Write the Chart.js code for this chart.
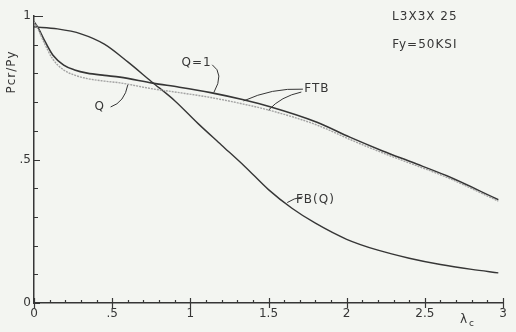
<!DOCTYPE html>
<html>
<head>
<meta charset="utf-8">
<script src="https://cdn.jsdelivr.net/npm/chart.js@4"></script>
<style>
  html, body { margin: 0; padding: 0; background: #f3f5f1; }
  #wrap { width: 516px; height: 332px; }
</style>
</head>
<body>
<div id="wrap"><canvas id="bucklingChart"></canvas></div>
<script>
// slenderness values and P/Py curves
const lamQ = [0, 0.03, 0.06, 0.12, 0.19, 0.26, 0.34, 0.45, 0.55, 0.76, 0.93, 1.13, 1.34, 1.51, 1.81, 2.02, 2.23, 2.42, 2.64, 2.97];
const q1Vals = [0.98, 0.955, 0.922, 0.864, 0.829, 0.812, 0.801, 0.793, 0.787, 0.766, 0.752, 0.733, 0.708, 0.684, 0.63, 0.578, 0.53, 0.49, 0.443, 0.36];
const qVals = [0.98, 0.95, 0.913, 0.85, 0.812, 0.794, 0.782, 0.773, 0.767, 0.746, 0.733, 0.716, 0.693, 0.671, 0.62, 0.57, 0.523, 0.484, 0.438, 0.355];
const lamFB = [0, 0.15, 0.3, 0.45, 0.6, 0.75, 0.9, 1.05, 1.2, 1.35, 1.5, 1.65, 1.8, 2.0, 2.2, 2.4, 2.6, 2.8, 2.97];
const fbVals = [0.962, 0.955, 0.938, 0.902, 0.84, 0.772, 0.705, 0.625, 0.55, 0.475, 0.395, 0.33, 0.278, 0.222, 0.184, 0.156, 0.134, 0.117, 0.105];

const xTickVals = [0, 0.5, 1, 1.5, 2, 2.5, 3];
const xTickLabels = ['0', '.5', '1', '1.5', '2', '2.5', '3'];
const yTickVals = [0, 0.5, 1];
const yTickLabels = ['0', '.5', '1'];

const ink = '#363636';
const font = '"DejaVu Sans", sans-serif';

function pts(xs, ys) {
  return xs.map((x, i) => ({ x: x, y: ys[i] }));
}

function tickLabel(vals, labels) {
  return function (v) {
    const i = vals.findIndex(t => Math.abs(t - v) < 1e-6);
    return i >= 0 ? labels[i] : '';
  };
}

// notes and leaders sit in data units so they follow the scales
const notes = [
  { text: 'Q=1', x: 1.04, y: 0.838 },
  { text: 'FTB', x: 1.81, y: 0.745 },
  { text: 'Q', x: 0.42, y: 0.683 },
  { text: 'FB(Q)', x: 1.8, y: 0.358 },
  { text: 'L3X3X 25', x: 2.5, y: 0.998 },
  { text: 'Fy=50KSI', x: 2.5, y: 0.9 }
];
const leaders = [
  [[1.14, 0.83], [1.22, 0.8], [1.15, 0.733]],
  [[1.72, 0.745], [1.52, 0.75], [1.34, 0.704]],
  [[1.71, 0.735], [1.58, 0.72], [1.5, 0.672]],
  [[0.49, 0.683], [0.58, 0.7], [0.6, 0.76]],
  [[1.72, 0.37], [1.66, 0.365], [1.62, 0.35]]
];

const decor = {
  id: 'decor',
  beforeDraw(chart) {
    const c = chart.ctx;
    c.save();
    c.fillStyle = '#f3f5f1';
    c.fillRect(0, 0, chart.width, chart.height);
    c.restore();
  },
  afterDraw(chart) {
    const c = chart.ctx;
    const xs = chart.scales.x, ys = chart.scales.y;
    const x0 = xs.left, y0 = ys.bottom;
    c.save();
    c.strokeStyle = ink;
    c.lineWidth = 1.2;
    // inward ticks
    c.beginPath();
    for (let i = 0; i <= 30; i++) {
      const px = Math.round(xs.getPixelForValue(i / 10)) + 0.5;
      if (i % 5 === 0) { c.moveTo(px, y0 - 5); c.lineTo(px, y0 + 5); }
      else { c.moveTo(px, y0); c.lineTo(px, y0 - 3); }
    }
    for (let i = 0; i <= 10; i++) {
      const py = Math.round(ys.getPixelForValue(i / 10)) + 0.5;
      const len = i === 10 ? 9 : (i % 5 === 0 ? 6 : 4);
      c.moveTo(x0, py); c.lineTo(x0 + len, py);
    }
    c.stroke();
    // leaders
    c.lineWidth = 1;
    leaders.forEach(l => {
      const p = l.map(d => [xs.getPixelForValue(d[0]), ys.getPixelForValue(d[1])]);
      c.beginPath();
      c.moveTo(p[0][0], p[0][1]);
      c.quadraticCurveTo(p[1][0], p[1][1], p[2][0], p[2][1]);
      c.stroke();
    });
    // notes
    c.fillStyle = ink;
    c.font = '12px ' + font;
    c.letterSpacing = '1px';
    c.textAlign = 'center';
    c.textBaseline = 'middle';
    notes.forEach(n => {
      c.fillText(n.text, xs.getPixelForValue(n.x), ys.getPixelForValue(n.y));
    });
    // axis titles
    c.fillText('\u03bb', 464, 320);
    c.font = '9px ' + font;
    c.fillText('c', 472, 324);
    c.font = '12px ' + font;
    c.translate(12, 72);
    c.rotate(-Math.PI / 2);
    c.fillText('Pcr/Py', 0, 0);
    c.restore();
  }
};

const ctx = document.getElementById('bucklingChart').getContext('2d');
const bucklingChart = new Chart(ctx, {
  type: 'scatter',
  data: {
    datasets: [
      { label: 'Q', data: pts(lamQ, qVals), borderColor: '#a3a3a3', borderWidth: 1.4, borderDash: [2, 1] },
      { label: 'Q=1', data: pts(lamQ, q1Vals), borderColor: ink, borderWidth: 1.6 },
      { label: 'FB(Q)', data: pts(lamFB, fbVals), borderColor: ink, borderWidth: 1.4 }
    ]
  },
  options: {
    responsive: true,
    maintainAspectRatio: false,
    animation: false,
    showLine: true,
    layout: { padding: { left: 0, right: 13, top: 16, bottom: 0 } },
    elements: {
      point: { radius: 0 },
      line: { tension: 0.4, cubicInterpolationMode: 'monotone', fill: false }
    },
    plugins: {
      legend: { display: false },
      tooltip: { enabled: false }
    },
    scales: {
      x: {
        type: 'linear',
        min: 0,
        max: 3,
        afterFit: s => { s.height = 29; },
        grid: { display: false, drawTicks: false },
        border: { display: true, color: ink, width: 1.5 },
        ticks: {
          stepSize: 0.1,
          autoSkip: false,
          maxRotation: 0,
          padding: 4,
          color: ink,
          font: { family: font, size: 12 },
          callback: tickLabel(xTickVals, xTickLabels)
        }
      },
      y: {
        min: 0,
        max: 1,
        afterFit: s => { s.width = 34; },
        grid: { display: false, drawTicks: false },
        border: { display: true, color: ink, width: 1.5 },
        ticks: {
          stepSize: 0.1,
          autoSkip: false,
          padding: 3,
          color: ink,
          font: { family: font, size: 12 },
          callback: tickLabel(yTickVals, yTickLabels)
        }
      }
    }
  },
  plugins: [decor]
});
</script>
</body>
</html>
